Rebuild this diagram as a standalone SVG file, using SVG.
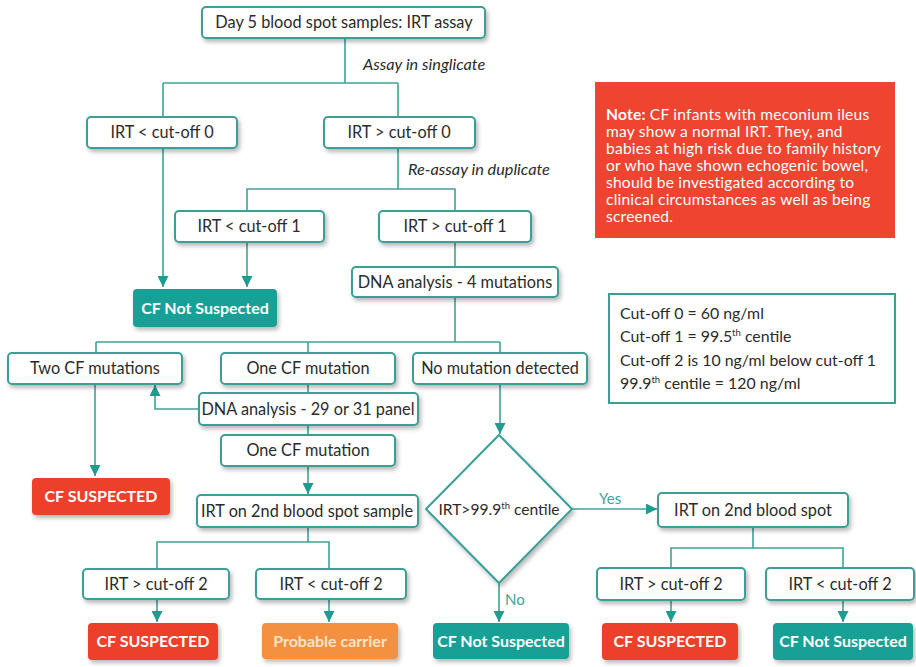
<svg xmlns="http://www.w3.org/2000/svg" width="916" height="667" viewBox="0 0 916 667">
<defs>
<filter id="sh" x="-10%" y="-20%" width="125%" height="160%">
<feDropShadow dx="2" dy="3" stdDeviation="2" flood-color="#000" flood-opacity="0.28"/>
</filter>
<marker id="ah" viewBox="0 0 10 10" refX="10" refY="5" markerWidth="11" markerHeight="11" markerUnits="userSpaceOnUse" orient="auto">
<path d="M0,0 L10,5 L0,10 z" fill="#1f9c92"/>
</marker>
</defs>
<style>
.box{fill:#fff;stroke:#3a9f97;stroke-width:2;filter:url(#sh)}
.teal{fill:#17a096;filter:url(#sh)}
.red{fill:#ec3f2c;filter:url(#sh)}
.org{fill:#f3913f;filter:url(#sh)}
.t{font-family:Lato,"Liberation Sans",sans-serif;font-size:16.3px;fill:#2b2b2b;text-anchor:middle}
.w{font-family:Lato,"Liberation Sans",sans-serif;font-size:16px;font-weight:bold;fill:#fff;text-anchor:middle}
.it{font-family:Lato,"Liberation Sans",sans-serif;font-size:16.3px;font-style:italic;fill:#2b2b2b}
.c{fill:none;stroke:#3fa39b;stroke-width:1.6}
.ca{fill:none;stroke:#3fa39b;stroke-width:1.6;marker-end:url(#ah)}
.nt{font-family:Lato,"Liberation Sans",sans-serif;font-size:15.6px;letter-spacing:0.2px;fill:#fff}
.ct{font-family:Lato,"Liberation Sans",sans-serif;font-size:15.9px;fill:#2b2b2b}
.lab{font-family:Lato,"Liberation Sans",sans-serif;font-size:15px;fill:#3fa39b}
</style>
<rect width="916" height="667" fill="#fff"/>

<g id="connectors">
<path class="c" d="M345,38 V83 M163,83 H398 M163,83 V117 M398,83 V117"/>
<path class="ca" d="M163,148 V287"/>
<path class="c" d="M398,148 V189 H247 V211 M398,189 H455 V211"/>
<path class="ca" d="M247,242 V287"/>
<path class="c" d="M455,242 V267"/>
<path class="c" d="M455,297 V342 M96,342 H500 M96,342 V353 M308,342 V353 M500,342 V353"/>
<path class="c" d="M308,384 V393 M308,425 V435"/>
<path class="ca" d="M199,409 H155 V385"/>
<path class="ca" d="M95,384 V476"/>
<path class="ca" d="M308,466 V494"/>
<path class="c" d="M308,527 V542 H157 V569 M308,542 H329 V569"/>
<path class="ca" d="M157,599 V622"/>
<path class="ca" d="M329,599 V622"/>
<path class="ca" d="M500,384 V434"/>
<path class="ca" d="M572,509 H657"/>
<path class="ca" d="M499,583 V622"/>
<path class="c" d="M753,527 V548 H671 V568 M753,548 H843 V568"/>
<path class="ca" d="M671,600 V622"/>
<path class="ca" d="M843,600 V622"/>
<text class="it" x="363" y="70">Assay in singlicate</text>
<text class="it" x="408" y="175">Re-assay in duplicate</text>
<text class="lab" x="599" y="504">Yes</text>
<text class="lab" x="505" y="605">No</text>
</g>

<g id="n_day5"><rect class="box" x="202" y="7" width="283" height="31" rx="4"/><text class="t" x="344" y="28">Day 5 blood spot samples: IRT assay</text></g>
<g id="n_lt0"><rect class="box" x="87" y="117" width="150" height="31" rx="4"/><text class="t" x="162" y="138">IRT &lt; cut-off 0</text></g>
<g id="n_gt0"><rect class="box" x="324" y="117" width="151" height="31" rx="4"/><text class="t" x="399" y="138">IRT &gt; cut-off 0</text></g>
<g id="n_lt1"><rect class="box" x="175" y="211" width="149" height="31" rx="4"/><text class="t" x="249" y="232">IRT &lt; cut-off 1</text></g>
<g id="n_gt1"><rect class="box" x="379" y="211" width="152" height="31" rx="4"/><text class="t" x="455" y="232">IRT &gt; cut-off 1</text></g>
<g id="n_notsusp1"><rect class="teal" x="133" y="289" width="144" height="38" rx="4"/><text class="w" x="205" y="314">CF Not Suspected</text></g>
<g id="n_dna4"><rect class="box" x="352" y="267" width="206" height="30" rx="4"/><text class="t" x="455" y="288">DNA analysis - 4 mutations</text></g>
<g id="n_two"><rect class="box" x="8" y="353" width="174" height="31" rx="4"/><text class="t" x="95" y="374">Two CF mutations</text></g>
<g id="n_one1"><rect class="box" x="221" y="353" width="174" height="31" rx="4"/><text class="t" x="308" y="374">One CF mutation</text></g>
<g id="n_nomut"><rect class="box" x="413" y="353" width="174" height="31" rx="4"/><text class="t" x="500" y="374">No mutation detected</text></g>
<g id="n_dna29"><rect class="box" x="199" y="393" width="219" height="32" rx="4"/><text class="t" x="308" y="415">DNA analysis - 29 or 31 panel</text></g>
<g id="n_one2"><rect class="box" x="221" y="435" width="174" height="31" rx="4"/><text class="t" x="308" y="456">One CF mutation</text></g>
<g id="n_susp1"><rect class="red" x="32" y="478" width="138" height="37" rx="4"/><text class="w" x="101" y="502">CF SUSPECTED</text></g>
<g id="n_irt2a"><rect class="box" x="197" y="495" width="221" height="32" rx="4"/><text class="t" x="307" y="517">IRT on 2nd blood spot sample</text></g>
<g id="n_diamond"><path class="box" d="M499,435 L572,509 L499,583 L426,509 Z"/><text class="t" x="499" y="515" style="font-size:15.6px">IRT&gt;99.9<tspan dy="-6" style="font-size:9.5px">th</tspan><tspan dy="6"> centile</tspan></text></g>
<g id="n_gt2a"><rect class="box" x="83" y="569" width="146" height="30" rx="4"/><text class="t" x="156" y="590">IRT &gt; cut-off 2</text></g>
<g id="n_lt2a"><rect class="box" x="256" y="569" width="150" height="30" rx="4"/><text class="t" x="331" y="590">IRT &lt; cut-off 2</text></g>
<g id="n_susp2"><rect class="red" x="88" y="623" width="130" height="37" rx="4"/><text class="w" x="153" y="647">CF SUSPECTED</text></g>
<g id="n_carrier"><rect class="org" x="262" y="623" width="136" height="36" rx="4"/><text class="w" x="330" y="647" style="fill:#fde3c8">Probable carrier</text></g>
<g id="n_notsusp2"><rect class="teal" x="433" y="623" width="136" height="36" rx="4"/><text class="w" x="501" y="647">CF Not Suspected</text></g>
<g id="n_irt2b"><rect class="box" x="658" y="493" width="190" height="34" rx="4"/><text class="t" x="753" y="516">IRT on 2nd blood spot</text></g>
<g id="n_gt2b"><rect class="box" x="597" y="568" width="148" height="32" rx="4"/><text class="t" x="671" y="590">IRT &gt; cut-off 2</text></g>
<g id="n_lt2b"><rect class="box" x="766" y="568" width="148" height="32" rx="4"/><text class="t" x="840" y="590">IRT &lt; cut-off 2</text></g>
<g id="n_susp3"><rect class="red" x="602" y="623" width="136" height="37" rx="4"/><text class="w" x="670" y="647">CF SUSPECTED</text></g>
<g id="n_notsusp3"><rect class="teal" x="773" y="623" width="140" height="37" rx="4"/><text class="w" x="843" y="647">CF Not Suspected</text></g>

<g id="note">
<rect x="595" y="82" width="300" height="156" fill="#ef4430"/>
<text class="nt" x="606" y="120"><tspan font-weight="bold">Note:</tspan> CF infants with meconium ileus</text>
<text class="nt" x="606" y="137">may show a normal IRT. They, and</text>
<text class="nt" x="606" y="154">babies at high risk due to family history</text>
<text class="nt" x="606" y="171">or who have shown echogenic bowel,</text>
<text class="nt" x="606" y="188">should be investigated according to</text>
<text class="nt" x="606" y="205">clinical circumstances as well as being</text>
<text class="nt" x="606" y="222">screened.</text>
</g>

<g id="cutoffs">
<rect x="609" y="294" width="286" height="109" fill="#fff" stroke="#3a9f97" stroke-width="2"/>
<text class="ct" x="620" y="319">Cut-off 0 = 60 ng/ml</text>
<text class="ct" x="620" y="342">Cut-off 1 = 99.5<tspan dy="-6" style="font-size:9.5px">th</tspan><tspan dy="6"> centile</tspan></text>
<text class="ct" x="620" y="366">Cut-off 2 is 10 ng/ml below cut-off 1</text>
<text class="ct" x="620" y="389">99.9<tspan dy="-6" style="font-size:9.5px">th</tspan><tspan dy="6"> centile = 120 ng/ml</tspan></text>
</g>
</svg>
